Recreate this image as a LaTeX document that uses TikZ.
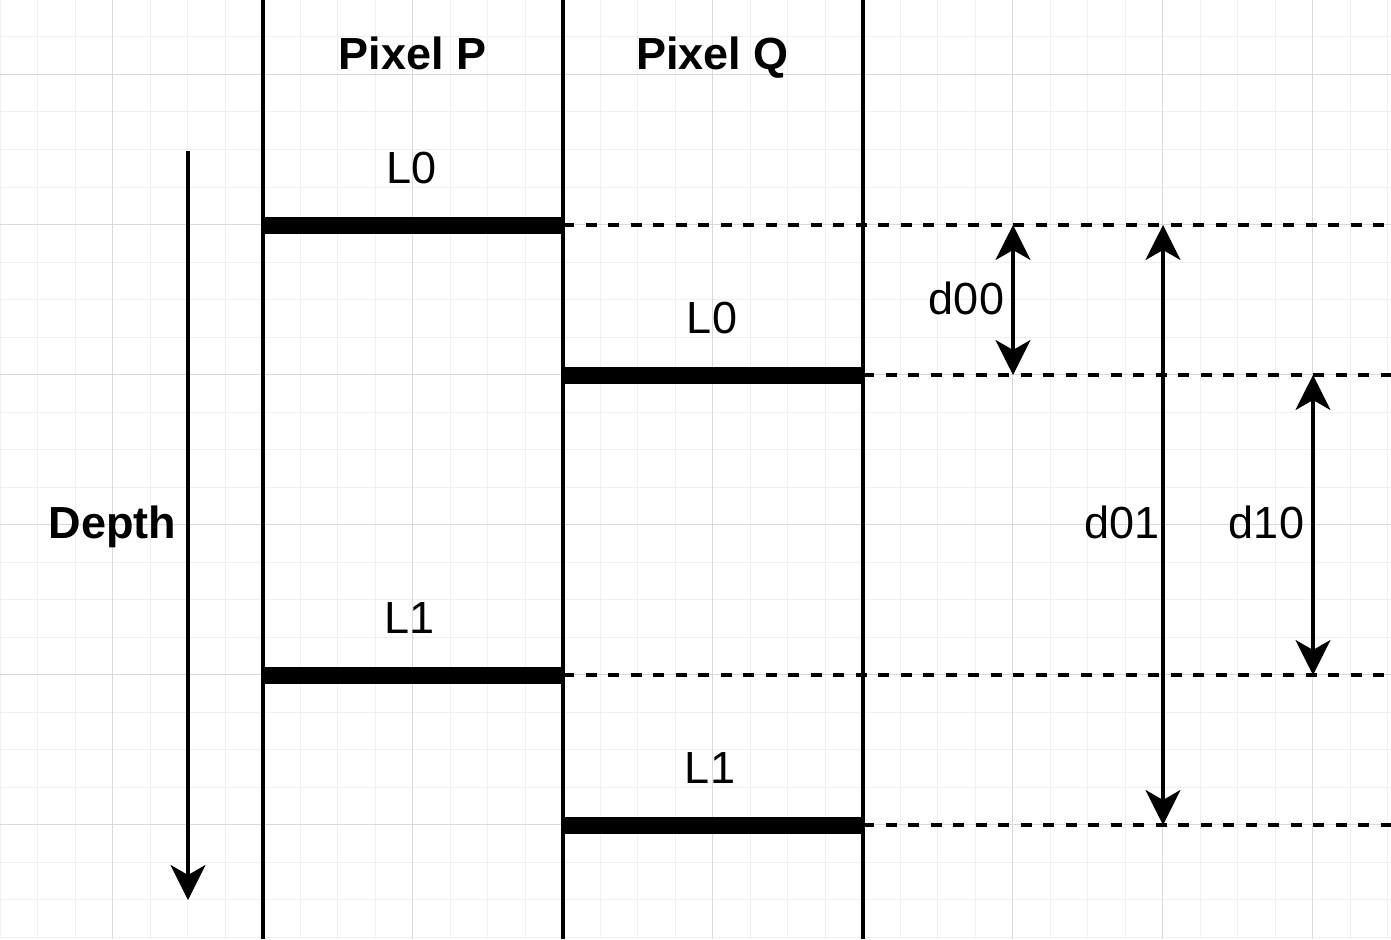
\documentclass[tikz,border=0pt]{standalone}
\usepackage{fontspec}
\setmainfont{Liberation Sans}
\usetikzlibrary{arrows.meta}
\definecolor{minorc}{HTML}{F0F0F0}
\definecolor{majorc}{HTML}{D9D9D9}
\begin{document}
\begin{tikzpicture}[x=1pt,y=-1pt,
  minorgrid/.style={draw=minorc, line width=1pt},
  majorgrid/.style={draw=majorc, line width=1pt},
  colline/.style={line width=4pt},
  barline/.style={line width=17pt},
  guide/.style={line width=3.75pt, dash pattern=on 11.25pt off 11.25pt},
  dimline/.style={line width=3.5pt, {Stealth[length=35pt,width=35pt,inset=10pt]}-{Stealth[length=35pt,width=35pt,inset=10pt]}},
  oneway/.style={line width=3.5pt, -{Stealth[length=35pt,width=35pt,inset=10pt]}},
  lbl/.style={font=\fontsize{45}{54}\selectfont, inner sep=0pt, anchor=base},
  ttl/.style={font=\fontsize{45}{54}\selectfont\bfseries, inner sep=0pt, anchor=base}
]
\useasboundingbox (0,0) rectangle (1391,939);
\fill[white] (0,0) rectangle (1391,939);
% grid
\foreach \i in {0,...,37} \draw[minorgrid] (\i*37.5,0) -- (\i*37.5,939);
\foreach \i in {0,...,25} \draw[minorgrid] (0,\i*37.5-0.5) -- (1391,\i*37.5-0.5);
\foreach \i in {0,...,8} \draw[majorgrid] (112.5+\i*150,0) -- (112.5+\i*150,939);
\foreach \i in {0,...,5} \draw[majorgrid] (0,74.5+\i*150) -- (1391,74.5+\i*150);

% coordinates
\coordinate (c1t) at (263,0);   \coordinate (c1b) at (263,939);
\coordinate (c2t) at (563,0);   \coordinate (c2b) at (563,939);
\coordinate (c3t) at (863,0);   \coordinate (c3b) at (863,939);
\coordinate (pl0a) at (263,225); \coordinate (pl0b) at (563,225);
\coordinate (ql0a) at (563,375); \coordinate (ql0b) at (863,375);
\coordinate (pl1a) at (263,675); \coordinate (pl1b) at (563,675);
\coordinate (ql1a) at (563,825); \coordinate (ql1b) at (863,825);
\coordinate (g1) at (1391,225);
\coordinate (g2) at (1391,375);
\coordinate (g3) at (1391,675);
\coordinate (g4) at (1391,825);
\coordinate (dtop) at (188,151); \coordinate (dbot) at (188,900);
\coordinate (a00t) at (1013,225); \coordinate (a00b) at (1013,375);
\coordinate (a01t) at (1163,225); \coordinate (a01b) at (1163,825);
\coordinate (a10t) at (1313,375); \coordinate (a10b) at (1313,675);

% guides
\draw[guide] (pl0b) -- (g1);
\draw[guide] (ql0b) -- (g2);
\draw[guide] (pl1b) -- (g3);
\draw[guide] (ql1b) -- (g4);

% columns
\draw[colline] (c1t) -- (c1b);
\draw[colline] (c2t) -- (c2b);
\draw[colline] (c3t) -- (c3b);

% bars
\draw[barline] (pl0a) -- (pl0b);
\draw[barline] (ql0a) -- (ql0b);
\draw[barline] (pl1a) -- (pl1b);
\draw[barline] (ql1a) -- (ql1b);

% arrows
\draw[oneway] (dtop) -- (dbot);
\draw[dimline] (a00t) -- (a00b);
\draw[dimline] (a01t) -- (a01b);
\draw[dimline] (a10t) -- (a10b);

% labels
\node[ttl] (pp) at (412.5,70) {Pixel P};
\node[ttl] (pq) at (712.5,70) {Pixel Q};
\node[ttl] (depth) at (112.5,538) {Depth};
\node[lbl] (lp0) at (412,183) {L0};
\node[lbl] (lq0) at (712,333) {L0};
\node[lbl] (lp1) at (410,633) {L1};
\node[lbl] (lq1) at (710,783) {L1};
\node[lbl] (d00) at (966.5,314) {d00};
\node[lbl] (d01) at (1122,538) {d01};
\node[lbl] (d10) at (1266.5,538) {d10};
\end{tikzpicture}
\end{document}
